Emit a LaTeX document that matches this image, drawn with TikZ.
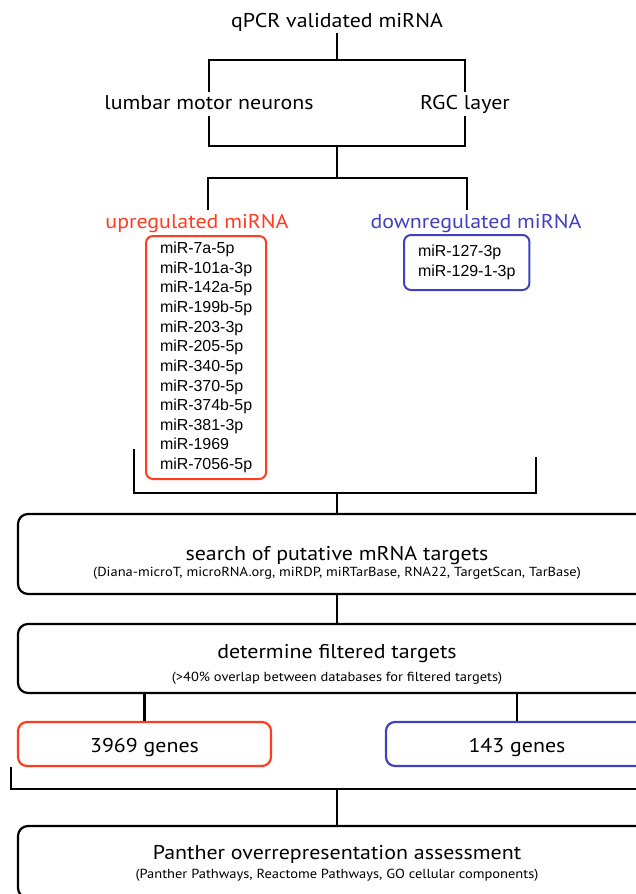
\documentclass[tikz,border=0pt]{standalone}
\usepackage{fontspec}
\setmainfont{PT Sans}[FakeStretch=1.1]
\newfontfamily\mirfont{Liberation Sans}
\usepackage{xcolor}
\usetikzlibrary{positioning, calc}
\definecolor{upred}{RGB}{255,59,32}
\definecolor{downblue}{RGB}{64,64,192}
\tikzstyle{link} = [line width=2.2bp, black]
\tikzstyle{levellabel} = [inner sep=2bp, text height=15bp, text depth=4bp, font=\fontsize{20}{24}\selectfont]
\tikzstyle{stepbox} = [draw, line width=2.2bp, rounded corners=10bp, minimum width=638bp]
\tikzstyle{steptitle} = [inner sep=0pt, text height=15bp, text depth=4bp, font=\fontsize{20}{24}\selectfont]
\tikzstyle{stepsub} = [inner sep=0pt, text height=9bp, text depth=3bp, font=\fontsize{13.2}{15}\selectfont]
\tikzstyle{genebox} = [draw, line width=2.2bp, rounded corners=9bp, minimum height=44bp, text height=17bp, text depth=1bp, font=\fontsize{20}{24}\selectfont]
\tikzstyle{mirbox} = [draw, line width=2bp, rounded corners=7bp, align=left, inner xsep=14bp, anchor=north west, font=\mirfont\fontsize{16}{19.7}\selectfont]

\begin{document}
\begin{tikzpicture}[x=1bp, y=-1bp]
\useasboundingbox (0,0) rectangle (636,894);
\clip (0,0) rectangle (636,894);

% Source and tissues
\node[levellabel] (qpcr) at (337,21.5) {qPCR validated miRNA};
\node[levellabel] (lumbar) at (209,104) {lumbar motor neurons};
\node[levellabel] (rgc) at (465,104) {RGC layer};

\coordinate (split1) at (337,60);
\coordinate (split2) at (337,146);
\coordinate (split3) at (337,178);
\draw[link] (qpcr) -- (split1);
\draw[link] (lumbar) |- (split1) -| (rgc);
\draw[link] (lumbar) |- (split2) -| (rgc);
\draw[link] (split2) -- (split3);

% Regulated miRNA
\coordinate (upstem) at (208,210);
\coordinate (downstem) at (467,210);
\draw[link] (upstem) |- (split3) -| (downstem);

\node[levellabel, text=upred] (up) at (197,222.5) {upregulated miRNA};
\node[levellabel, text=downblue] (down) at (476,222.5) {downregulated miRNA};

\node[mirbox, draw=upred, minimum height=243bp] (uplist) at (145,235) {miR-7a-5p\\miR-101a-3p\\miR-142a-5p\\miR-199b-5p\\miR-203-3p\\miR-205-5p\\miR-340-5p\\miR-370-5p\\miR-374b-5p\\miR-381-3p\\miR-1969\\miR-7056-5p};
\node[mirbox, draw=downblue, minimum height=55bp] (downlist) at (403,234) {miR-127-3p\\miR-129-1-3p};

\coordinate (upend) at (134,449);
\coordinate (downend) at (536,457);
\coordinate (merge1) at (337,493);
\draw[link] (upend) |- (merge1) -| (downend);

% Target search
\node[stepbox, minimum height=80bp] (search) at (337,554) {};
\node[steptitle] (searchtitle) at (337,554.5) {search of putative mRNA targets};
\node[stepsub] (searchsub) at (337,573) {(Diana-microT, microRNA.org, miRDP, miRTarBase, RNA22, TargetScan, TarBase)};
\draw[link] (merge1) -- (search);

% Filtering
\node[stepbox, minimum height=69bp] (filter) at (337,658.5) {};
\node[steptitle] (filtertitle) at (337,652.5) {determine filtered targets};
\node[stepsub] (filtersub) at (337,678) {(>40\% overlap between databases for filtered targets)};
\draw[link] (search) -- (filter);

% Gene sets
\node[genebox, draw=upred, minimum width=253bp] (upgenes) at (144.5,744) {3969 genes};
\node[genebox, draw=downblue, minimum width=262bp] (downgenes) at (517,744) {143 genes};
\draw[link] (filter.south -| upgenes) -- (upgenes);
\draw[link] (filter.south -| downgenes) -- (downgenes);

\coordinate (upgenesend) at (11,767);
\coordinate (downgenesend) at (663,767);
\coordinate (merge2) at (337,789);
\draw[link] (upgenesend) |- (merge2) -| (downgenesend);

% Overrepresentation
\node[stepbox, minimum height=72bp] (panther) at (337,862) {};
\node[steptitle] (panthertitle) at (337,853.5) {Panther overrepresentation assessment};
\node[stepsub] (panthersub) at (337,875) {(Panther Pathways, Reactome Pathways, GO cellular components)};
\draw[link] (merge2) -- (panther);
\end{tikzpicture}
\end{document}
